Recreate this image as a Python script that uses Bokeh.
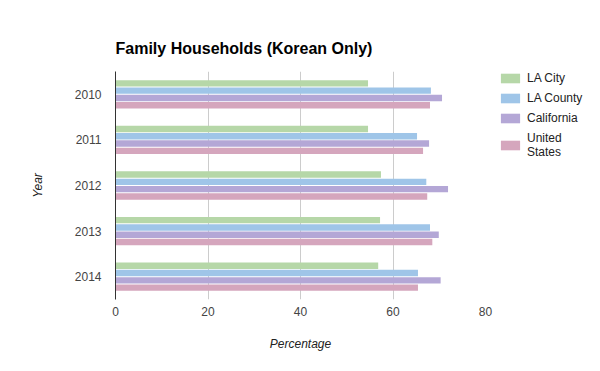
from bokeh.plotting import figure
from bokeh.models import (ColumnDataSource, FactorRange, Range1d, FixedTicker,
                          Legend, LegendItem)
from bokeh.transform import dodge
from bokeh.embed import file_html
from bokeh.resources import INLINE

# ---- data ----
years = ["2010", "2011", "2012", "2013", "2014"]
la_city = [54.6, 54.6, 57.4, 57.2, 56.8]
la_county = [68.2, 65.2, 67.2, 68.0, 65.4]
california = [70.6, 67.8, 71.9, 69.9, 70.3]
united_states = [68.0, 66.5, 67.4, 68.5, 65.4]
series_names = ["LA City", "LA County", "California", "United\nStates"]
series_keys = ["la_city", "la_county", "california", "united_states"]
series_colors = ["#b6d7a8", "#9fc5e8", "#b4a7d6", "#d5a6bd"]
x_ticks = [0, 20, 40, 60, 80]

source = ColumnDataSource(dict(year=years, la_city=la_city, la_county=la_county,
                               california=california, united_states=united_states))

FONT = "Liberation Sans"

p = figure(y_range=FactorRange(factors=list(reversed(years))),
           x_range=Range1d(0, 80),
           frame_width=370, frame_height=228,
           min_border_left=115, min_border_right=107,
           min_border_top=71, min_border_bottom=64,
           output_backend="svg", toolbar_location=None,
           title="Family Households (Korean Only)")

p.outline_line_color = None
p.background_fill_color = "white"
p.border_fill_color = "white"

offsets = [0.24, 0.08, -0.08, -0.24]
renderers = []
for key, color, off in zip(series_keys, series_colors, offsets):
    r = p.hbar(y=dodge("year", off, range=p.y_range), right=key, left=0,
               height=0.14, source=source, fill_color=color, line_color=None)
    renderers.append(r)

# title
p.title.text_font = FONT
p.title.text_font_size = "16px"
p.title.text_font_style = "bold"
p.title.text_color = "#000000"
p.title.align = "left"
p.title.standoff = 30

# x axis
p.xaxis.ticker = FixedTicker(ticks=x_ticks)
p.xaxis.axis_line_color = None
p.xaxis.major_tick_line_color = None
p.xaxis.minor_tick_line_color = None
p.xaxis.major_label_text_font = FONT
p.xaxis.major_label_text_font_size = "12px"
p.xaxis.major_label_text_color = "#444444"
p.xaxis.major_label_standoff = 1
p.xaxis.axis_label = "Percentage"
p.xaxis.axis_label_text_font = FONT
p.xaxis.axis_label_text_font_size = "12px"
p.xaxis.axis_label_text_font_style = "italic"
p.xaxis.axis_label_text_color = "#222222"
p.xaxis.axis_label_standoff = 18

# y axis
p.yaxis.axis_line_color = "#333333"
p.yaxis.major_tick_line_color = None
p.yaxis.minor_tick_line_color = None
p.yaxis.major_label_text_font = FONT
p.yaxis.major_label_text_font_size = "12px"
p.yaxis.major_label_text_color = "#444444"
p.yaxis.major_label_standoff = 8
p.yaxis.axis_label = "Year"
p.yaxis.axis_label_text_font = FONT
p.yaxis.axis_label_text_font_size = "12px"
p.yaxis.axis_label_text_font_style = "italic"
p.yaxis.axis_label_text_color = "#222222"
p.yaxis.axis_label_standoff = 27

# grid
p.xgrid.grid_line_color = "#cccccc"
p.ygrid.grid_line_color = None

# legend
items = [LegendItem(label=n, renderers=[r]) for n, r in zip(series_names, renderers)]
legend = Legend(items=items, location=(13, 140), margin=0, padding=0,
                border_line_color=None, background_fill_alpha=0,
                glyph_width=24, glyph_height=12, label_standoff=5,
                spacing=6, label_height=12,
                label_text_font=FONT, label_text_font_size="12px",
                label_text_color="#222222")
p.add_layout(legend, "right")

open("out.html", "w").write(file_html(p, INLINE))
